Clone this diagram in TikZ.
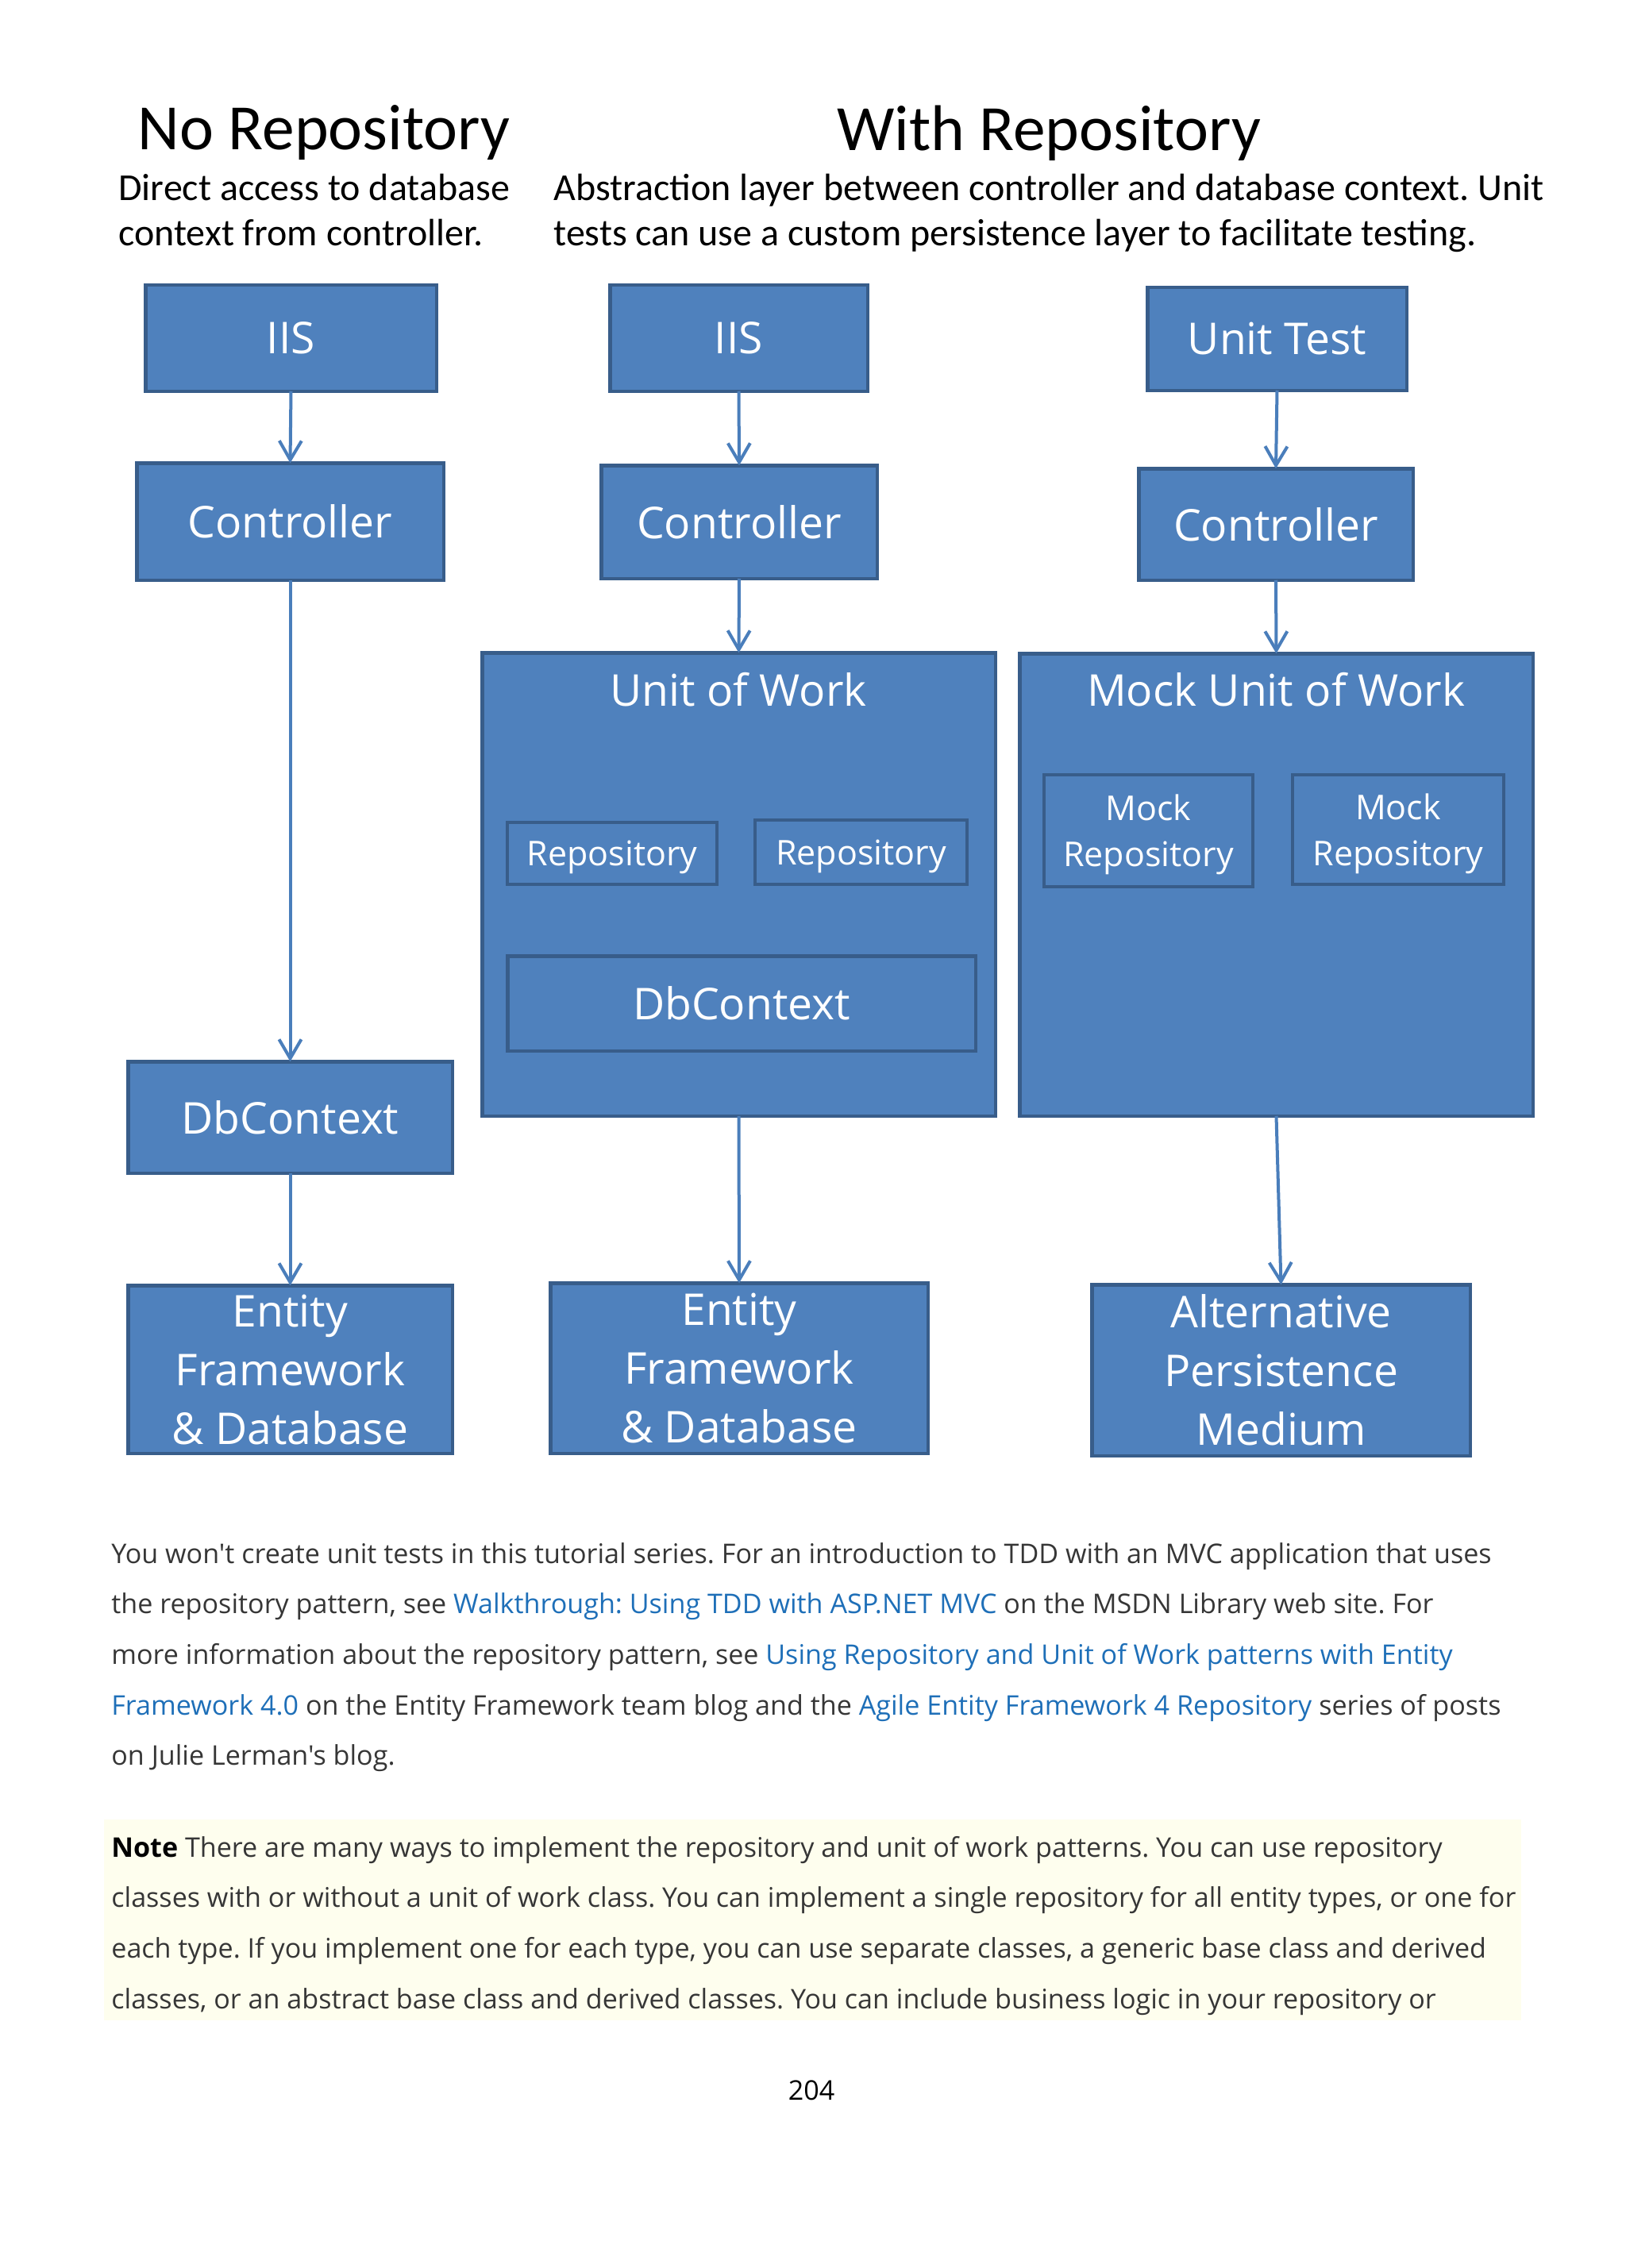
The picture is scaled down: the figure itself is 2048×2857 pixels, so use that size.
\documentclass[tikz,border=0pt]{standalone}
\usepackage{fontspec}
\setmainfont{Open Sans}[Ligatures=TeXOff]
\newfontfamily\titlefont{Carlito}
\usetikzlibrary{arrows.meta}
\definecolor{boxfill}{HTML}{4F81BD}
\definecolor{boxline}{HTML}{385D8A}
\definecolor{arrowc}{HTML}{4A7EBB}
\definecolor{linkc}{HTML}{1E6FB8}
\definecolor{bodyc}{HTML}{363636}
\definecolor{notebg}{HTML}{FEFEEE}
\frenchspacing
\begin{document}
\begin{tikzpicture}[x=0.5pt,y=-0.5pt,
  box/.style={draw=boxline, fill=boxfill, line width=2.25pt, inner sep=0pt, outer sep=0pt,
    text=white, font=\fontsize{27.6}{37}\selectfont},
  mbox/.style={box, align=center},
  smallbox/.style={box, line width=2pt, text depth=0pt, font=\fontsize{21.5}{29}\selectfont},
  boxlabel/.style={text=white, inner sep=0pt, font=\fontsize{27.6}{37}\selectfont},
  conn/.style={draw=arrowc, line width=2pt, -{Straight Barb[length=12pt,width=14pt,line width=2pt]}},
  title/.style={inner sep=0pt, font=\titlefont\fontsize{40.7}{48}\selectfont},
  sub/.style={inner sep=0pt, font=\titlefont\fontsize{24}{28}\selectfont},
  body/.style={inner sep=0pt, text=bodyc, font=\fontsize{17.05}{20}\selectfont}]
\fill[white] (0,0) rectangle (2048,2857);
\useasboundingbox (0,0) rectangle (2048,2857);

% headings
\node[title, anchor=base] (t1) at (408,189) {No Repository};
\node[title, anchor=base] (t2) at (1321,190) {With Repository};
\node[sub, anchor=base west] (s1a) at (149,253) {Direct access to database};
\node[sub, anchor=base west] (s1b) at (149,310) {context from controller.};
\node[sub, anchor=base west] (s2a) at (697,253) {Abstraction layer between controller and database context. Unit};
\node[sub, anchor=base west] (s2b) at (697,310) {tests can use a custom persistence layer to facilitate testing.};

% column 1
\node[box, minimum width=183.25pt, minimum height=66.75pt] (iis1) at (366.5,426) {IIS};
\node[box, minimum width=193.25pt, minimum height=73.75pt] (ctrl1) at (365.5,657) {Controller};
\node[box, minimum width=204.25pt, minimum height=70.25pt] (dbc1) at (365.5,1407.5) {DbContext};
\node[mbox, minimum width=204.25pt, minimum height=105.75pt] (ef1) at (365.5,1725) {Entity\\Framework\\\& Database};

% column 2
\node[box, minimum width=162.25pt, minimum height=66.75pt] (iis2) at (930.5,426) {IIS};
\node[box, minimum width=173.75pt, minimum height=71.25pt] (ctrl2) at (931,657.5) {Controller};
\node[box, minimum width=323.25pt, minimum height=291.75pt] (uow) at (930.5,1114) {};
\node[boxlabel, anchor=base] (uowt) at (930,889) {Unit of Work};
\node[smallbox, minimum width=132pt, minimum height=39pt] (rep1) at (771,1075) {Repository};
\node[smallbox, minimum width=133.5pt, minimum height=40.5pt] (rep2) at (1084.5,1073.5) {Repository};
\node[box, minimum width=294.75pt, minimum height=59.75pt] (dbc2) at (934,1264) {DbContext};
\node[mbox, minimum width=237.75pt, minimum height=107.25pt] (ef2) at (931,1723.5) {Entity\\Framework\\\& Database};

% column 3
\node[box, minimum width=163.25pt, minimum height=64.75pt] (ut) at (1608.5,427) {Unit Test};
\node[box, minimum width=172.75pt, minimum height=70.25pt] (ctrl3) at (1607,660.5) {Controller};
\node[box, minimum width=323.25pt, minimum height=291.25pt] (muow) at (1607.5,1114.5) {};
\node[boxlabel, anchor=base] (muowt) at (1607,889) {Mock Unit of Work};
\node[smallbox, align=center, minimum width=131.5pt, minimum height=70.5pt] (mrep1) at (1446.5,1046.5) {Mock\\Repository};
\node[smallbox, align=center, minimum width=133pt, minimum height=69pt] (mrep2) at (1761,1045) {Mock\\Repository};
\node[mbox, minimum width=238.25pt, minimum height=107.75pt] (alt) at (1613.5,1726) {Alternative\\Persistence\\Medium};

% connectors
\draw[conn] (iis1.south) -- (ctrl1.north);
\draw[conn] (ctrl1.south) -- (dbc1.north);
\draw[conn] (dbc1.south) -- (ef1.north);
\draw[conn] (iis2.south) -- (ctrl2.north);
\draw[conn] (ctrl2.south) -- (uow.north);
\draw[conn] (uow.south) -- (ef2.north);
\draw[conn] (ut.south) -- (ctrl3.north);
\draw[conn] (ctrl3.south) -- (muow.north);
\draw[conn] (muow.south) -- (alt.north);

% body text
\node[body, anchor=mid west] (b1) at (140,1964) {You won't create unit tests in this tutorial series. For an introduction to TDD with an MVC application that uses};
\node[body, anchor=mid west] (b2) at (140,2027.6) {the repository pattern, see {\color{linkc}Walkthrough: Using TDD with ASP.NET MVC} on the MSDN Library web site. For};
\node[body, anchor=mid west] (b3) at (140,2091.2) {more information about the repository pattern, see {\color{linkc}Using Repository and Unit of Work patterns with Entity}};
\node[body, anchor=mid west] (b4) at (140,2154.8) {{\color{linkc}Framework 4.0} on the Entity Framework team blog and the {\color{linkc}Agile Entity Framework 4 Repository} series of posts};
\node[body, anchor=mid west] (b5) at (140,2218.4) {on Julie Lerman's blog.};

% note
\fill[notebg] (131,2292) rectangle (1916,2545);
\node[body, anchor=mid west] (n1) at (140,2334) {{\color{black}\bfseries Note} There are many ways to implement the repository and unit of work patterns. You can use repository};
\node[body, anchor=mid west] (n2) at (140,2397.6) {classes with or without a unit of work class. You can implement a single repository for all entity types, or one for};
\node[body, anchor=mid west] (n3) at (140,2461.2) {each type. If you implement one for each type, you can use separate classes, a generic base class and derived};
\node[body, anchor=mid west] (n4) at (140,2524.8) {classes, or an abstract base class and derived classes. You can include business logic in your repository or};

\node[body, text=black] (page) at (1022,2633) {204};
\end{tikzpicture}
\end{document}
